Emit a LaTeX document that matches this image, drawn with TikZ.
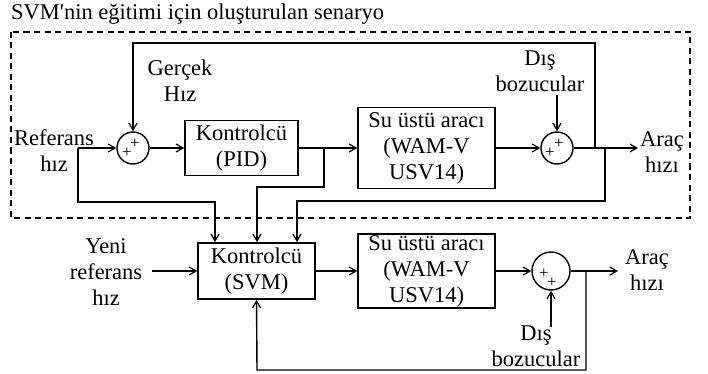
\documentclass[tikz,border=0pt]{standalone}
\usepackage{fontspec}
\setmainfont{Liberation Serif}[Ligatures=TeXOff]
\usetikzlibrary{arrows.meta}
\begin{document}
\begin{tikzpicture}[x=1pt,y=-1pt,
  every node/.style={font=\fontsize{22.5}{26}\selectfont, inner sep=0pt},
  blk/.style={draw, line width=1.6pt, align=center},
  sumc/.style={draw, circle, line width=1.4pt},
  lbl/.style={align=center},
  pls/.style={font=\fontsize{17}{17}\selectfont},
  conn/.style={line width=1.4pt},
  arr/.style={conn, -{Straight Barb[length=7pt,width=8pt,line width=1.2pt]}},
  grp/.style={dash pattern=on 6pt off 4.5pt, line width=1.4pt}
]
\useasboundingbox (0,0) rectangle (708,374);
\node[anchor=base west] (title) at (11,20) {SVM'nin eğitimi için oluşturulan senaryo};
\draw[grp] (11,32) rectangle (690,218);

% top row
\node[sumc, minimum size=32pt] (sum1) at (133,148) {};
\node[blk, minimum width=113pt, minimum height=55pt] (pid) at (241.5,148) {Kontrolcü\\(PID)};
\node[blk, minimum width=137pt, minimum height=81pt] (su1) at (426.5,148) {Su üstü aracı\\(WAM-V\\USV14)};
\node[sumc, minimum size=32pt] (sum2) at (557,148) {};

% bottom row
\node[blk, minimum width=117pt, minimum height=56pt] (svm) at (256.5,271) {Kontrolcü\\(SVM)};
\node[blk, minimum width=137pt, minimum height=74pt] (su2) at (426.5,271) {Su üstü aracı\\(WAM-V\\USV14)};
\node[sumc, minimum size=38pt] (sum3) at (551,271) {};

% plus signs
\node[pls] (p1a) at (135,144) {+};
\node[pls] (p1b) at (127,153) {+};
\node[pls] (p2a) at (559,144) {+};
\node[pls] (p2b) at (550,153) {+};
\node[pls] (p3a) at (544,274) {+};
\node[pls] (p3b) at (552,283) {+};

% labels
\node[lbl] (ref) at (54,151) {Referans\\hız};
\node[lbl] (ger) at (180,81) {Gerçek\\Hız};
\node[lbl] (dis1) at (540,71) {Dış\\bozucular};
\node[lbl] (arac1) at (662,152) {Araç\\hızı};
\node[lbl] (yeni) at (106,272) {Yeni\\referans\\hız};
\node[lbl] (arac2) at (647,270) {Araç\\hızı};
\node[lbl] (dis2) at (536,346) {Dış\\bozucular};

% coordinates
\coordinate (rin) at (78,148);
\coordinate (r2) at (215,202);
\coordinate (b1) at (324,148);
\coordinate (b1d) at (257,187);
\coordinate (out1) at (638,148);
\coordinate (fb) at (595,148);
\coordinate (fbt) at (595,43);
\coordinate (b2) at (605,148);
\coordinate (b2d) at (297,201);
\coordinate (d1) at (557,95);
\coordinate (yin) at (152,271);
\coordinate (out2) at (618,271);
\coordinate (b3) at (586,271);
\coordinate (b3d) at (257,370);
\coordinate (d2) at (551,327);

% top connectors
\draw[arr] (rin) -- (sum1.west);
\draw[arr] (rin) |- (r2) -- (r2 |- svm.north);
\draw[arr] (sum1.east) -- (pid.west);
\draw[arr] (pid.east) -- (su1.west);
\draw[arr] (b1) |- (b1d) -- (b1d |- svm.north);
\draw[arr] (su1.east) -- (sum2.west);
\draw[arr] (sum2.east) -- (out1);
\draw[arr] (fb) -- (fbt) -| (sum1.north);
\draw[arr] (b2) |- (b2d) -- (b2d |- svm.north);
\draw[arr] (d1) -- (sum2.north);

% bottom connectors
\draw[arr] (yin) -- (svm.west);
\draw[arr] (svm.east) -- (su2.west);
\draw[arr] (su2.east) -- (sum3.west);
\draw[arr] (sum3.east) -- (out2);
\draw[arr] (b3) |- (b3d) -- (svm.south);
\draw[arr] (d2) -- (sum3.south);
\end{tikzpicture}
\end{document}
